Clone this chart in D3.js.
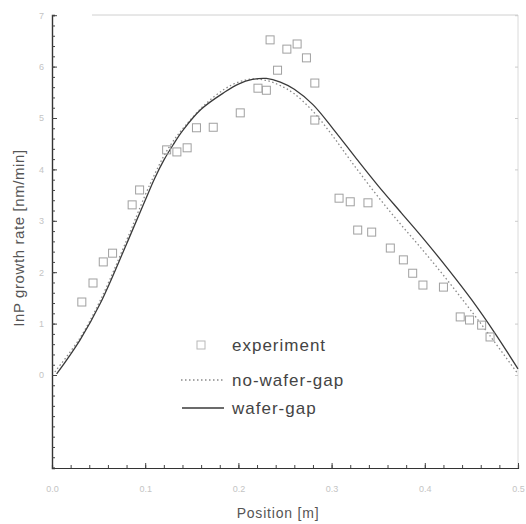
<!DOCTYPE html>
<html><head><meta charset="utf-8">
<script src="https://cdn.jsdelivr.net/npm/d3@7"></script>
<style>body{margin:0;background:#fff}svg{display:block}</style>
</head><body>
<svg id="c" width="526" height="524"></svg>
<script>
// ---- data ----
const xTicks = [0.0, 0.1, 0.2, 0.3, 0.4, 0.5];
const xTickLabels = ["0.0", "0.1", "0.2", "0.3", "0.4", "0.5"];
const yTicks = [0, 1, 2, 3, 4, 5, 6, 7];
const yTickLabels = ["0", "1", "2", "3", "4", "5", "6", "7"];

const expX = [0.032,0.044,0.055,0.065,0.086,0.094,0.123,0.134,0.145,0.155,0.173,0.202,0.221,0.230,0.234,0.242,0.252,0.263,0.273,0.282,0.282,0.308,0.320,0.339,0.328,0.343,0.363,0.377,0.387,0.398,0.420,0.438,0.448,0.461,0.470];
const expY = [1.42,1.79,2.20,2.37,3.31,3.60,4.38,4.34,4.42,4.81,4.82,5.10,5.58,5.54,6.52,5.93,6.34,6.44,6.17,5.68,4.96,3.44,3.37,3.35,2.82,2.78,2.47,2.24,1.98,1.75,1.71,1.13,1.07,0.97,0.74];

const wgX = [0.005,0.030,0.052,0.080,0.100,0.110,0.120,0.130,0.140,0.160,0.185,0.200,0.215,0.230,0.245,0.260,0.280,0.302,0.327,0.350,0.375,0.400,0.425,0.450,0.475,0.500];
const wgY = [0.02,0.68,1.40,2.55,3.40,3.82,4.18,4.48,4.75,5.17,5.50,5.66,5.75,5.77,5.70,5.56,5.26,4.78,4.20,3.68,3.15,2.62,2.06,1.47,0.82,0.12];

const nwgX = [0.003,0.030,0.052,0.080,0.100,0.110,0.120,0.130,0.143,0.164,0.185,0.200,0.215,0.230,0.245,0.260,0.280,0.300,0.320,0.345,0.370,0.395,0.420,0.445,0.470,0.500];
const nwgY = [0.06,0.72,1.46,2.62,3.50,3.90,4.26,4.55,4.85,5.26,5.56,5.70,5.76,5.73,5.63,5.47,5.13,4.68,4.18,3.58,3.02,2.49,1.94,1.36,0.76,0.02];

const seriesNames = ["experiment", "no-wafer-gap", "wafer-gap"];

// ---- chart ----
const FONT = "Liberation Sans, Arial, sans-serif";
const svg = d3.select("#c");
const L = 52, R = 518, T = 15, B = 468;
const x = d3.scaleLinear().domain([0, 0.5]).range([L, R]);
const y = d3.scaleLinear().domain([(375 - B) / 51.4, (375 - T) / 51.4]).range([B, T]);

// frame (top/right faint)
svg.append("line").attr("x1", L + 40).attr("x2", R).attr("y1", T).attr("y2", T)
  .attr("stroke", "#d0d0d0").attr("stroke-width", 1);
svg.append("line").attr("x1", R).attr("x2", R).attr("y1", T).attr("y2", B)
  .attr("stroke", "#dadada").attr("stroke-width", 1);

// bottom axis
const xMinor = d3.range(0, 0.5001, 0.02);
const gx = svg.append("g").attr("transform", `translate(0,${B})`)
  .call(d3.axisBottom(x).tickValues(xMinor).tickSize(-3).tickFormat(""));
gx.select(".domain").attr("stroke", "#333").attr("stroke-width", 1.2);
gx.selectAll(".tick line").attr("stroke", "#444");
const gx2 = svg.append("g").attr("transform", `translate(0,${B})`)
  .call(d3.axisBottom(x).tickValues(xTicks).tickSize(-5)
    .tickFormat((d, i) => xTickLabels[i]).tickPadding(18));
gx2.select(".domain").remove();
gx2.selectAll(".tick line").attr("stroke", "#444");
gx2.selectAll("text").attr("fill", "#c4c4c4").attr("font-size", 9).attr("font-family", FONT);

// left axis
const yMinor = d3.range(-1.8, 7.0001, 0.2);
const gy = svg.append("g").attr("transform", `translate(${L},0)`)
  .call(d3.axisLeft(y).tickValues(yMinor).tickSize(-3).tickFormat(""));
gy.select(".domain").attr("stroke", "#333").attr("stroke-width", 1.4);
gy.selectAll(".tick line").attr("stroke", "#444");
const gy2 = svg.append("g").attr("transform", `translate(${L},0)`)
  .call(d3.axisLeft(y).tickValues(yTicks).tickSize(-5)
    .tickFormat((d, i) => yTickLabels[i]).tickPadding(8));
gy2.select(".domain").remove();
gy2.selectAll(".tick line").attr("stroke", "#444");
gy2.selectAll("text").attr("fill", "#c4c4c4").attr("font-size", 9).attr("font-family", FONT);

// right axis faint ticks
const gr = svg.append("g").attr("transform", `translate(${R},0)`)
  .call(d3.axisRight(y).tickValues(yTicks).tickSize(-3).tickFormat(""));
gr.select(".domain").remove();
gr.selectAll(".tick line").attr("stroke", "#ccc");

// curves
const line = d3.line().x(d => x(d[0])).y(d => y(d[1])).curve(d3.curveCatmullRom);
svg.append("path").datum(nwgX.map((v, i) => [v, nwgY[i]]))
  .attr("d", line).attr("fill", "none").attr("stroke", "#8a8a8a")
  .attr("stroke-width", 1.3).attr("stroke-dasharray", "1.5,2.5");
svg.append("path").datum(wgX.map((v, i) => [v, wgY[i]]))
  .attr("d", line).attr("fill", "none").attr("stroke", "#3a3a3a")
  .attr("stroke-width", 1.3);

// experiment squares
svg.append("g").selectAll("rect").data(expX.map((v, i) => [v, expY[i]]))
  .join("rect")
  .attr("x", d => x(d[0]) - 4).attr("y", d => y(d[1]) - 4)
  .attr("width", 8).attr("height", 8)
  .attr("fill", "none").attr("stroke", "#a0a0a0").attr("stroke-width", 1);

// legend
const lg = svg.append("g").attr("font-family", FONT)
  .attr("font-size", 17).attr("letter-spacing", 1).attr("fill", "#444");
const rows = [345, 380, 408];
lg.append("rect").attr("x", 197).attr("y", rows[0] - 4).attr("width", 8).attr("height", 8)
  .attr("fill", "none").attr("stroke", "#b8b8b8");
lg.append("line").attr("x1", 181).attr("x2", 224).attr("y1", rows[1]).attr("y2", rows[1])
  .attr("stroke", "#8a8a8a").attr("stroke-width", 1.3).attr("stroke-dasharray", "1.5,2.5");
lg.append("line").attr("x1", 182).attr("x2", 224).attr("y1", rows[2]).attr("y2", rows[2])
  .attr("stroke", "#3a3a3a").attr("stroke-width", 1.3);
rows.forEach((r, i) => {
  lg.append("text").attr("x", 232).attr("y", r + 6).text(seriesNames[i]);
});

// axis titles
svg.append("text").attr("x", 278).attr("y", 518).attr("text-anchor", "middle")
  .attr("font-family", FONT).attr("font-size", 14).attr("letter-spacing", 0.8)
  .attr("fill", "#555").text("Position [m]");
svg.append("text").attr("transform", "translate(24,238) rotate(-90)")
  .attr("text-anchor", "middle")
  .attr("font-family", FONT).attr("font-size", 15).attr("letter-spacing", 0.6)
  .attr("fill", "#555").text("InP growth rate [nm/min]");
</script>
</body></html>
